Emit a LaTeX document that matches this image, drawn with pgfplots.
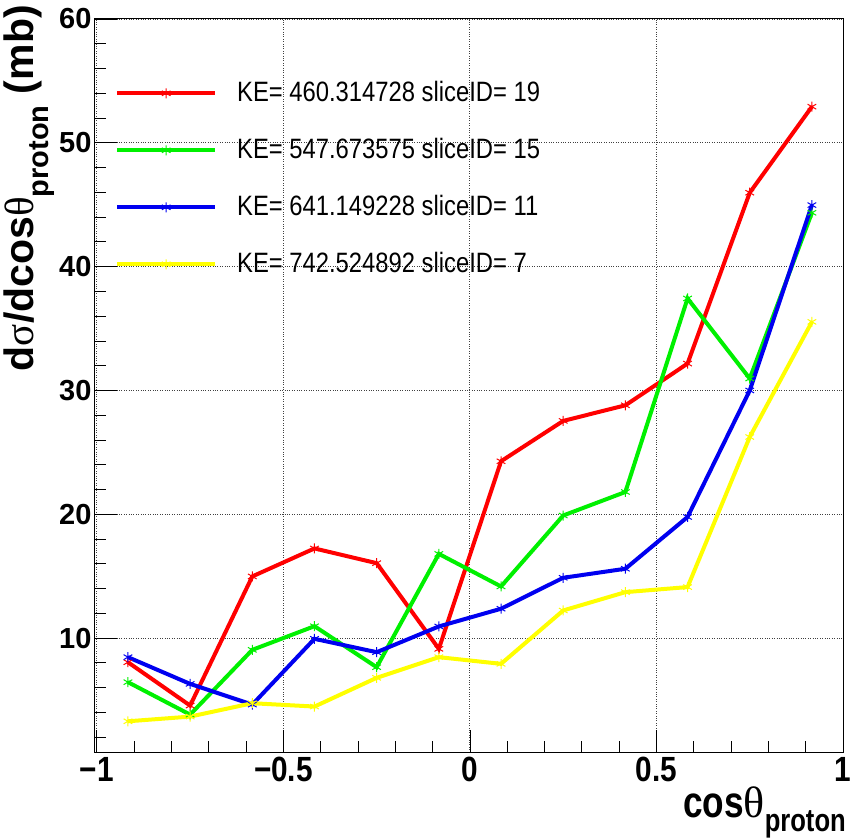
\documentclass[border=0pt]{standalone}
\usepackage{fontspec}
\setmainfont{Liberation Sans}
\newfontfamily\cond[FakeStretch=0.85]{Liberation Sans}
\newfontfamily\condx[FakeStretch=0.8]{Liberation Sans}
\newfontfamily\symf{Liberation Serif}
\usepackage{pgfplots}
\pgfplotsset{compat=1.18}
\definecolor{rred}{RGB}{255,0,0}
\definecolor{rgreen}{RGB}{0,240,0}
\definecolor{rblue}{RGB}{0,0,240}
\definecolor{ryellow}{RGB}{255,255,0}
\begin{document}
\begin{tikzpicture}
\useasboundingbox (-95pt,-86pt) rectangle (759pt,752pt);
\begin{axis}[
  at={(0,0)}, anchor=south west,
  scale only axis, width=748pt, height=733pt,
  xmin=-1.005, xmax=1.0, ymin=0.8, ymax=60,
  xtick={-1,-0.5,0,0.5,1},
  xticklabels={−1,−0.5,0,0.5,1},
  ytick={0,10,20,30,40,50,60},
  minor x tick num=4, minor y tick num=4,
  tick align=inside, tick pos=left,
  major tick length=22pt, minor tick length=11pt,
  tick style={black, line width=0.8pt},
  axis line style={black, line width=1pt},
  grid=major,
  major grid style={dotted, black!75, line width=0.9pt},
  /pgf/number format/assume math mode=true,
  y tick label style={font=\bfseries\fontsize{29}{29}\selectfont},
  x tick label style={font=\cond\bfseries\fontsize{35}{35}\selectfont, yshift=-2pt},
  xlabel={\condx\bfseries cos{\symf\mdseries θ}\raisebox{-0.3em}{\fontsize{32}{32}\selectfont proton}},
  xlabel style={at={(axis description cs:1.004,-0.09)}, anchor=base east, font=\fontsize{44}{44}\selectfont, inner sep=0pt},
  ylabel={\bfseries d{\symf\mdseries σ}/dcos{\symf\mdseries θ}\raisebox{-0.35em}{\fontsize{29}{29}\selectfont\bfseries proton} (mb)},
  ylabel style={at={(axis description cs:-0.0816,1.019)}, anchor=base east, font=\fontsize{41}{41}\selectfont, inner sep=0pt},
  legend style={at={(rel axis cs:0.0267,0.918)}, anchor=north west, draw=none, fill=none,
    font=\cond\fontsize{28}{28}\selectfont, row sep=29pt, inner sep=0pt,
    nodes={inner sep=0pt, text height=22pt, text depth=6pt},
    /tikz/every odd column/.append style={column sep=20pt}},
  legend cell align=left,
  legend image code/.code={\draw[#1, mark repeat=2, mark phase=2] plot coordinates {(0pt,0pt) (49pt,0pt) (98pt,0pt)};},
  every axis plot/.append style={line width=4pt, mark=asterisk, mark size=5pt, mark options={solid, line width=1pt}},
]
\addplot[color=rred] coordinates {
(-0.916667,8.05) (-0.75,4.55) (-0.583333,14.98) (-0.416667,17.24) (-0.25,16.05) (-0.083333,9.13)
(0.083333,24.28) (0.25,27.54) (0.416667,28.8) (0.583333,32.17) (0.75,45.97) (0.916667,52.92)};
\addlegendentry{KE= 460.314728 sliceID= 19}
\addplot[color=rgreen] coordinates {
(-0.916667,6.44) (-0.75,3.82) (-0.583333,9.05) (-0.416667,10.96) (-0.25,7.65) (-0.083333,16.8)
(0.083333,14.17) (0.25,19.9) (0.416667,21.8) (0.583333,37.43) (0.75,30.96) (0.916667,44.35)};
\addlegendentry{KE= 547.673575 sliceID= 15}
\addplot[color=rblue] coordinates {
(-0.916667,8.46) (-0.75,6.3) (-0.583333,4.63) (-0.416667,9.94) (-0.25,8.86) (-0.083333,10.94)
(0.083333,12.37) (0.25,14.87) (0.416667,15.6) (0.583333,19.78) (0.75,30.0) (0.916667,44.97)};
\addlegendentry{KE= 641.149228 sliceID= 11}
\addplot[color=ryellow] coordinates {
(-0.916667,3.28) (-0.75,3.66) (-0.583333,4.74) (-0.416667,4.47) (-0.25,6.79) (-0.083333,8.46)
(0.083333,7.92) (0.25,12.23) (0.416667,13.71) (0.583333,14.12) (0.75,26.24) (0.916667,35.54)};
\addlegendentry{KE= 742.524892 sliceID= 7}
\end{axis}
\end{tikzpicture}
\end{document}
